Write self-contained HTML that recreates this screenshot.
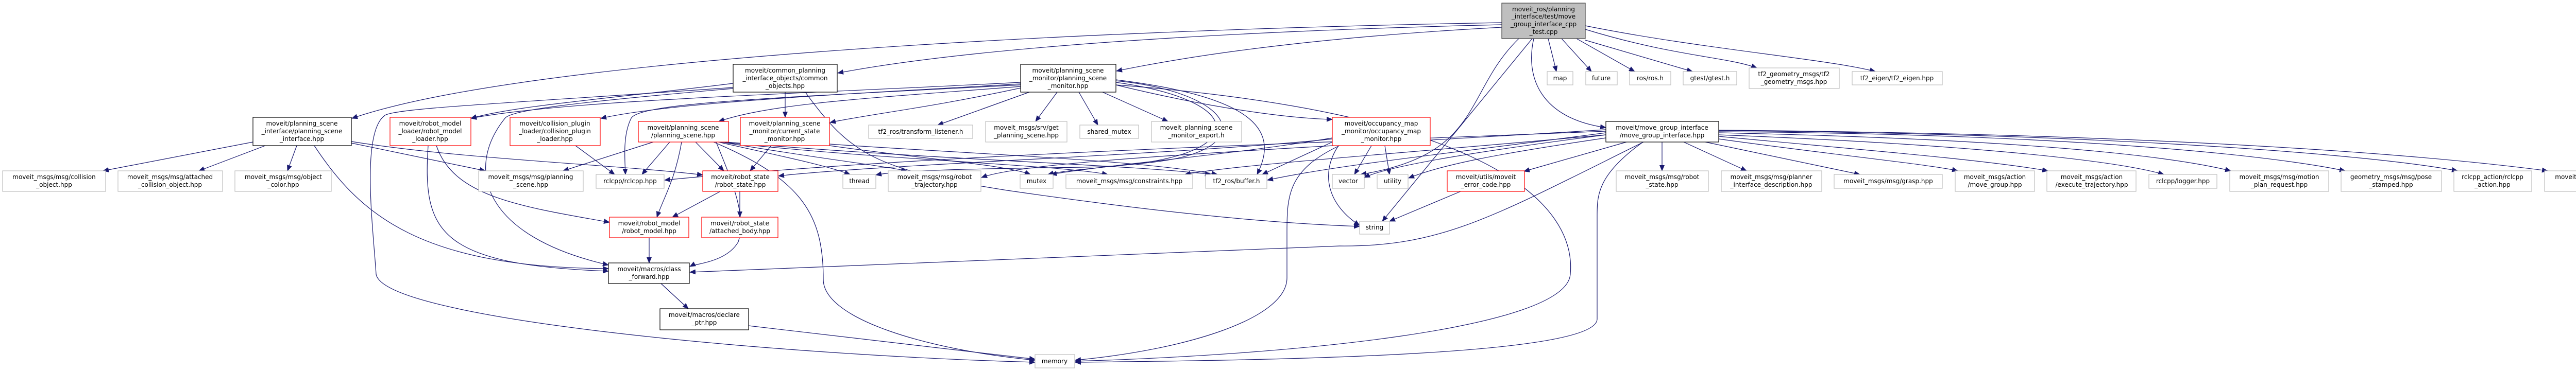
<!DOCTYPE html>
<html><head><meta charset="utf-8"><style>
html,body{margin:0;padding:0;background:#fff;}
svg{display:block;}
text{font-family:"DejaVu Sans","Liberation Sans",sans-serif;font-size:12px;fill:#000;text-anchor:middle;}
.e{fill:none;stroke:#191970;stroke-width:1.2;marker-end:url(#a);}
.k{fill:#fff;stroke:#000;stroke-width:1.2;}
.r{fill:#fff;stroke:#ff0000;stroke-width:1.2;}
.g{fill:#fff;stroke:#bfbfbf;stroke-width:1.2;}
</style></head><body>
<svg width="5165" height="721" viewBox="0 0 5165 721" xmlns="http://www.w3.org/2000/svg">
<defs><marker id="a" markerWidth="12" markerHeight="10" refX="11" refY="5" orient="auto" markerUnits="userSpaceOnUse"><path d="M0,0 L12,5 L0,10 z" fill="#191970"/></marker></defs>
<g>
<path class="e" d="M2915,44 C2000,60 1000,120 683,230"/>
<path class="e" d="M2915,48 C2400,60 1900,90 1626,142"/>
<path class="e" d="M2915,53 C2600,70 2350,100 2167,138"/>
<path class="e" d="M2977,75 C2960,150 2990,230 3117,248"/>
<path class="e" d="M3005,75 L3021,139"/>
<path class="e" d="M3031,75 L3089,139"/>
<path class="e" d="M3060,75 L3173,139"/>
<path class="e" d="M3077,78 L3285,139"/>
<path class="e" d="M3077,57 C3250,110 3350,110 3410,132"/>
<path class="e" d="M3077,50 C3300,95 3550,115 3640,139"/>
<path class="e" d="M2948,75 C2840,180 2880,300 2641,339"/>
<path class="e" d="M2974,75 L2683,430"/>
<path class="e" d="M1524,179 L1524,228"/>
<path class="e" d="M1563,179 C1650,300 1700,330 1955,370 C2300,420 2500,435 2639,440"/>
<path class="e" d="M1423,162 C1200,190 1000,205 914,230"/>
<path class="e" d="M1423,170 C1000,200 760,210 746,225 C700,260 725,450 730,533 C745,620 1500,690 2009,704"/>
<path class="e" d="M1423,172 C1100,200 990,215 980,230 C900,330 940,460 1181,515"/>
<path class="e" d="M1981,168 C1700,190 1500,200 1395,236"/>
<path class="e" d="M1981,171 C1800,210 1700,220 1611,238"/>
<path class="e" d="M1981,160 C1500,185 1100,195 914,230"/>
<path class="e" d="M1981,163 C1600,185 1300,200 1166,230"/>
<path class="e" d="M1981,165 C1500,190 1240,200 1225,230 C1210,260 1212,300 1214,339"/>
<path class="e" d="M1998,179 L1820,243"/>
<path class="e" d="M2052,179 L2010,236"/>
<path class="e" d="M2094,179 L2131,243"/>
<path class="e" d="M2140,179 L2267,236"/>
<path class="e" d="M2166,165 C2350,210 2500,230 2586,232"/>
<path class="e" d="M2166,157 C2400,180 2450,290 2240,315 C2150,325 2070,330 2034,339"/>
<path class="e" d="M2166,155 C2450,190 2480,260 2440,339"/>
<path class="e" d="M2166,160 C2450,200 2420,320 2100,325 C1900,328 1750,330 1700,340"/>
<path class="e" d="M2166,165 C2900,220 3060,400 3048,533 C3040,640 2500,690 2087,702"/>
<path class="e" d="M1497,283 L1456,332"/>
<path class="e" d="M1610,280 C1900,300 2200,310 2363,339"/>
<path class="e" d="M1610,283 C1800,310 1950,320 2000,339"/>
<path class="e" d="M1268,276 L1093,332"/>
<path class="e" d="M1300,276 L1246,339"/>
<path class="e" d="M1350,276 L1405,332"/>
<path class="e" d="M1323,276 C1310,350 1290,380 1275,422"/>
<path class="e" d="M1390,276 C1420,350 1450,420 1433,470 C1410,510 1350,512 1339,518"/>
<path class="e" d="M1385,276 C1560,350 1598,420 1598,543 C1598,620 1800,680 2009,700"/>
<path class="e" d="M1390,275 C1500,300 1600,320 1650,339"/>
<path class="e" d="M1400,276 C1600,310 1700,320 1760,332"/>
<path class="e" d="M1400,276 C1700,310 2050,320 2150,339"/>
<path class="e" d="M1410,276 C1800,310 2200,320 2350,339"/>
<path class="e" d="M491,276 L200,332"/>
<path class="e" d="M515,283 L386,332"/>
<path class="e" d="M576,283 L558,332"/>
<path class="e" d="M682,278 L942,332"/>
<path class="e" d="M682,275 C900,310 1200,320 1364,340"/>
<path class="e" d="M610,283 C700,420 820,520 1181,522"/>
<path class="e" d="M847,283 C880,380 1000,400 1183,432"/>
<path class="e" d="M831,283 C820,450 850,515 1181,527"/>
<path class="e" d="M1117,283 L1193,339"/>
<path class="e" d="M1260,462 L1260,511"/>
<path class="e" d="M1398,372 L1305,422"/>
<path class="e" d="M1436,372 L1436,422"/>
<path class="e" d="M1283,551 L1336,600"/>
<path class="e" d="M1453,633 L2009,698"/>
<path class="e" d="M2662,283 L2629,339"/>
<path class="e" d="M2688,283 L2697,339"/>
<path class="e" d="M2598,283 C2560,340 2580,400 2639,438"/>
<path class="e" d="M2586,276 L2450,339"/>
<path class="e" d="M2586,268 C2400,300 2150,320 2040,339"/>
<path class="e" d="M2600,283 C2500,330 2498,380 2498,450 L2498,540 C2498,620 2300,680 2087,700"/>
<path class="e" d="M2586,270 C2300,300 1700,320 1511,342"/>
<path class="e" d="M3226,276 L3226,332"/>
<path class="e" d="M3268,276 L3390,332"/>
<path class="e" d="M3310,276 L3610,339"/>
<path class="e" d="M3336,270 C3550,300 3750,320 3800,332"/>
<path class="e" d="M3336,265 C3600,290 3850,310 3975,332"/>
<path class="e" d="M3336,262 C3800,280 4100,310 4200,339"/>
<path class="e" d="M3336,258 C3900,270 4200,300 4330,332"/>
<path class="e" d="M3336,256 C4000,260 4400,300 4552,332"/>
<path class="e" d="M3336,254 C4100,260 4600,300 4770,332"/>
<path class="e" d="M3336,253 C4200,260 4700,300 4945,332"/>
<path class="e" d="M3157,276 L2958,333"/>
<path class="e" d="M3117,268 C2900,300 2800,320 2734,346"/>
<path class="e" d="M3117,262 C2900,290 2700,320 2648,345"/>
<path class="e" d="M3190,276 C2900,420 2800,480 2600,478 C2000,500 1500,520 1339,529"/>
<path class="e" d="M3189,276 C3100,340 3100,380 3100,420 L3100,620 C3100,690 2500,700 2087,704"/>
<path class="e" d="M3117,255 C2500,280 1800,300 1290,350"/>
<path class="e" d="M3117,258 C2800,300 2600,320 2460,350"/>
<path class="e" d="M3117,262 C2700,300 2400,320 2300,339"/>
<path class="e" d="M3117,252 C2500,290 2000,310 1905,345"/>
<path class="e" d="M2835,372 L2697,430"/>
</g>
<g>
<rect x="2915" y="6" width="162" height="69" fill="#bfbfbf" stroke="#404040" stroke-width="1.2"/>
<text x="2996" y="22">moveit_ros/planning</text><text x="2996" y="36">_interface/test/move</text><text x="2996" y="51">_group_interface_cpp</text><text x="2996" y="66">_test.cpp</text>

<rect class="k" x="491" y="228" width="191" height="55"/>
<text x="586" y="244">moveit/planning_scene</text><text x="586" y="259">_interface/planning_scene</text><text x="586" y="274">_interface.hpp</text>

<rect class="g" x="5" y="332" width="200" height="40"/><text x="105" y="348">moveit_msgs/msg/collision</text><text x="105" y="363">_object.hpp</text>
<rect class="g" x="229" y="332" width="203" height="40"/><text x="330" y="348">moveit_msgs/msg/attached</text><text x="330" y="363">_collision_object.hpp</text>
<rect class="g" x="456" y="332" width="187" height="40"/><text x="550" y="348">moveit_msgs/msg/object</text><text x="550" y="363">_color.hpp</text>

<rect class="r" x="757" y="228" width="157" height="55"/><text x="835" y="244">moveit/robot_model</text><text x="835" y="259">_loader/robot_model</text><text x="835" y="274">_loader.hpp</text>
<rect class="r" x="990" y="228" width="175" height="55"/><text x="1077" y="244">moveit/collision_plugin</text><text x="1077" y="259">_loader/collision_plugin</text><text x="1077" y="274">_loader.hpp</text>
<rect class="g" x="929" y="332" width="203" height="40"/><text x="1030" y="348">moveit_msgs/msg/planning</text><text x="1030" y="363">_scene.hpp</text>
<rect class="g" x="1157" y="339" width="132" height="27"/><text x="1223" y="356">rclcpp/rclcpp.hpp</text>
<rect class="r" x="1239" y="236" width="175" height="40"/><text x="1326" y="252">moveit/planning_scene</text><text x="1326" y="267">/planning_scene.hpp</text>
<rect class="r" x="1183" y="422" width="154" height="40"/><text x="1260" y="438">moveit/robot_model</text><text x="1260" y="453">/robot_model.hpp</text>
<rect class="k" x="1181" y="511" width="157" height="40"/><text x="1260" y="527">moveit/macros/class</text><text x="1260" y="542">_forward.hpp</text>
<rect class="k" x="1281" y="600" width="172" height="41"/><text x="1367" y="616">moveit/macros/declare</text><text x="1367" y="631">_ptr.hpp</text>

<rect class="k" x="1423" y="125" width="202" height="54"/><text x="1524" y="141">moveit/common_planning</text><text x="1524" y="156">_interface_objects/common</text><text x="1524" y="171">_objects.hpp</text>
<rect class="k" x="1981" y="125" width="185" height="54"/><text x="2073" y="141">moveit/planning_scene</text><text x="2073" y="156">_monitor/planning_scene</text><text x="2073" y="171">_monitor.hpp</text>
<rect class="r" x="1437" y="228" width="173" height="55"/><text x="1523" y="244">moveit/planning_scene</text><text x="1523" y="259">_monitor/current_state</text><text x="1523" y="274">_monitor.hpp</text>
<rect class="g" x="1686" y="243" width="202" height="26"/><text x="1787" y="260">tf2_ros/transform_listener.h</text>
<rect class="g" x="1913" y="236" width="158" height="40"/><text x="1992" y="252">moveit_msgs/srv/get</text><text x="1992" y="267">_planning_scene.hpp</text>
<rect class="g" x="2096" y="243" width="114" height="26"/><text x="2153" y="260">shared_mutex</text>
<rect class="g" x="2235" y="236" width="175" height="40"/><text x="2322" y="252">moveit_planning_scene</text><text x="2322" y="267">_monitor_export.h</text>
<rect class="r" x="1364" y="332" width="146" height="40"/><text x="1437" y="348">moveit/robot_state</text><text x="1437" y="363">/robot_state.hpp</text>
<rect class="g" x="1636" y="339" width="64" height="27"/><text x="1668" y="356">thread</text>
<rect class="g" x="1724" y="332" width="180" height="40"/><text x="1814" y="348">moveit_msgs/msg/robot</text><text x="1814" y="363">_trajectory.hpp</text>
<rect class="g" x="1980" y="339" width="64" height="27"/><text x="2012" y="356">mutex</text>
<rect class="g" x="2069" y="339" width="246" height="27"/><text x="2192" y="356">moveit_msgs/msg/constraints.hpp</text>
<rect class="g" x="2340" y="339" width="119" height="27"/><text x="2400" y="356">tf2_ros/buffer.h</text>
<rect class="r" x="1362" y="422" width="148" height="40"/><text x="1436" y="438">moveit/robot_state</text><text x="1436" y="453">/attached_body.hpp</text>
<rect class="g" x="2009" y="689" width="77" height="26"/><text x="2047" y="706">memory</text>

<rect class="r" x="2586" y="228" width="190" height="55"/><text x="2681" y="244">moveit/occupancy_map</text><text x="2681" y="259">_monitor/occupancy_map</text><text x="2681" y="274">_monitor.hpp</text>
<rect class="g" x="2586" y="339" width="62" height="27"/><text x="2617" y="356">vector</text>
<rect class="g" x="2673" y="339" width="60" height="27"/><text x="2703" y="356">utility</text>
<rect class="g" x="2639" y="430" width="58" height="25"/><text x="2668" y="446">string</text>
<rect class="r" x="2809" y="332" width="150" height="40"/><text x="2884" y="348">moveit/utils/moveit</text><text x="2884" y="363">_error_code.hpp</text>

<rect class="g" x="3003" y="139" width="50" height="26"/><text x="3028" y="156">map</text>
<rect class="g" x="3078" y="139" width="61" height="26"/><text x="3108" y="156">future</text>
<rect class="g" x="3163" y="139" width="80" height="26"/><text x="3203" y="156">ros/ros.h</text>
<rect class="g" x="3267" y="139" width="104" height="26"/><text x="3319" y="156">gtest/gtest.h</text>
<rect class="g" x="3395" y="132" width="175" height="40"/><text x="3482" y="148">tf2_geometry_msgs/tf2</text><text x="3482" y="163">_geometry_msgs.hpp</text>
<rect class="g" x="3595" y="139" width="175" height="26"/><text x="3682" y="156">tf2_eigen/tf2_eigen.hpp</text>

<rect class="k" x="3117" y="236" width="219" height="40"/><text x="3226" y="252">moveit/move_group_interface</text><text x="3226" y="267">/move_group_interface.hpp</text>
<rect class="g" x="3137" y="332" width="179" height="40"/><text x="3226" y="348">moveit_msgs/msg/robot</text><text x="3226" y="363">_state.hpp</text>
<rect class="g" x="3341" y="332" width="195" height="40"/><text x="3438" y="348">moveit_msgs/msg/planner</text><text x="3438" y="363">_interface_description.hpp</text>
<rect class="g" x="3560" y="339" width="210" height="27"/><text x="3665" y="356">moveit_msgs/msg/grasp.hpp</text>
<rect class="g" x="3795" y="332" width="154" height="40"/><text x="3872" y="348">moveit_msgs/action</text><text x="3872" y="363">/move_group.hpp</text>
<rect class="g" x="3973" y="332" width="173" height="40"/><text x="4060" y="348">moveit_msgs/action</text><text x="4060" y="363">/execute_trajectory.hpp</text>
<rect class="g" x="4171" y="339" width="132" height="27"/><text x="4237" y="356">rclcpp/logger.hpp</text>
<rect class="g" x="4328" y="332" width="192" height="40"/><text x="4424" y="348">moveit_msgs/msg/motion</text><text x="4424" y="363">_plan_request.hpp</text>
<rect class="g" x="4544" y="332" width="195" height="40"/><text x="4641" y="348">geometry_msgs/msg/pose</text><text x="4641" y="363">_stamped.hpp</text>
<rect class="g" x="4763" y="332" width="151" height="40"/><text x="4838" y="348">rclcpp_action/rclcpp</text><text x="4838" y="363">_action.hpp</text>
<rect class="g" x="4939" y="332" width="221" height="40"/><text x="5050" y="348">moveit_move_group_interface</text><text x="5050" y="363">_export.h</text>
</g>
</svg>
</body></html>
